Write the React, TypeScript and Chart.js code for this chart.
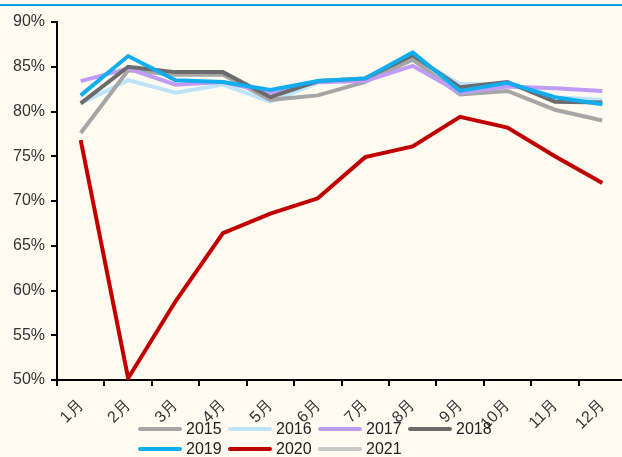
import React, { useEffect, useRef } from "react";
import { Chart, registerables } from "chart.js";

Chart.register(...registerables);

const months = ["1月", "2月", "3月", "4月", "5月", "6月", "7月", "8月", "9月", "10月", "11月", "12月"];
const yearLabels = ["2015", "2016", "2017", "2018", "2019", "2020", "2021"];
const y2015 = [77.6, 84.6, 84.1, 84.1, 81.3, 81.8, 83.3, 85.8, 81.9, 82.3, 80.2, 79.0];
const y2016 = [80.9, 83.5, 82.1, 83.0, 81.1, 83.2, 83.5, 86.0, 83.1, 83.0, 81.6, 81.3];
const y2017 = [83.4, 84.8, 83.0, 83.3, 82.1, 83.3, 83.4, 85.1, 82.1, 82.8, 82.6, 82.3];
const y2018 = [80.9, 85.0, 84.4, 84.4, 81.6, 83.4, 83.7, 86.3, 82.7, 83.3, 81.1, 81.0];
const y2019 = [81.8, 86.2, 83.5, 83.3, 82.4, 83.4, 83.7, 86.6, 82.3, 83.2, 81.6, 80.8];
const y2020 = [76.8, 50.2, 58.8, 66.4, 68.6, 70.3, 74.9, 76.1, 79.4, 78.2, 75.0, 72.0];
const y2021: (number | null)[] = [null, null, null, null, null, null, null, null, null, null, null, null];
const yTicks = [50, 55, 60, 65, 70, 75, 80, 85, 90];

const seriesValues = [y2015, y2016, y2017, y2018, y2019, y2020, y2021];
const colors = ["#A6A6A6", "#BDE4F8", "#C09CF8", "#6B6B6B", "#12ADEF", "#C00000", "#C9C9C9"];
const drawOrder = [4, 5, 3, 2, 0, 1, 6];

const FONT = "'Liberation Sans', Arial, sans-serif";
const BG = "#FFFBF1";

export default function App() {
  const ref = useRef<HTMLCanvasElement | null>(null);
  useEffect(() => {
    if (!ref.current) return;
    const chart = new Chart(ref.current, {
      type: "line",
      data: {
        labels: months,
        datasets: yearLabels.map((name, i) => ({
          label: name,
          data: seriesValues[i],
          borderColor: colors[i],
          backgroundColor: colors[i],
          borderWidth: 4,
          pointRadius: 0,
          tension: 0,
          fill: false,
          order: drawOrder[i],
        })),
      },
      options: {
        responsive: false,
        animation: false,
        devicePixelRatio: 1,
        layout: { padding: { top: 22, right: 0, left: 0, bottom: 0 } },
        plugins: { legend: { display: false }, tooltip: { enabled: false } },
        scales: {
          x: {
            type: "category",
            offset: true,
            grid: { offset: true, drawOnChartArea: false, drawTicks: true, tickLength: 6, color: "#000", lineWidth: 2 },
            border: { color: "#000", width: 2 },
            ticks: {
              minRotation: 45,
              maxRotation: 45,
              padding: 10,
              color: "#333",
              font: { family: FONT, size: 16 },
              autoSkip: false,
            },
            afterFit: (s: any) => { s.height = 77; },
          },
          y: {
            min: 50,
            max: 90,
            afterBuildTicks: (s: any) => { s.ticks = yTicks.map((v) => ({ value: v })); },
            grid: { drawOnChartArea: false, drawTicks: true, tickLength: 6, color: "#000", lineWidth: 2 },
            border: { color: "#000", width: 2 },
            ticks: {
              padding: 6,
              color: "#333",
              font: { family: FONT, size: 16 },
              callback: (v: any) => v + "%",
            },
            afterFit: (s: any) => { s.width = 57; },
          },
        },
      },
    });
    return () => chart.destroy();
  }, []);

  const legendRows = [yearLabels.slice(0, 4), yearLabels.slice(4)];
  return (
    <div style={{ position: "fixed", left: 0, top: 0, width: 630, height: 457, background: BG, overflow: "hidden" }}>
      <div style={{ position: "absolute", left: 0, top: 4, width: 630, height: 2, background: "#0B9CDB" }} />
      <canvas ref={ref} width={626} height={457} style={{ position: "absolute", left: 0, top: 0, width: 626, height: 457 }} />
      {legendRows.map((row, r) => (
        <div key={r} style={{ position: "absolute", left: 138, top: 419 + r * 20, height: 20, display: "flex" }}>
          {row.map((name) => {
            const i = yearLabels.indexOf(name);
            return (
              <div key={name} style={{ width: 90, display: "flex", alignItems: "center", height: 20 }}>
                <div style={{ width: 44, height: 4, borderRadius: 2, background: colors[i], marginRight: 4 }} />
                <span style={{ fontFamily: FONT, fontSize: 16, color: "#222", lineHeight: "20px" }}>{name}</span>
              </div>
            );
          })}
        </div>
      ))}
    </div>
  );
}
